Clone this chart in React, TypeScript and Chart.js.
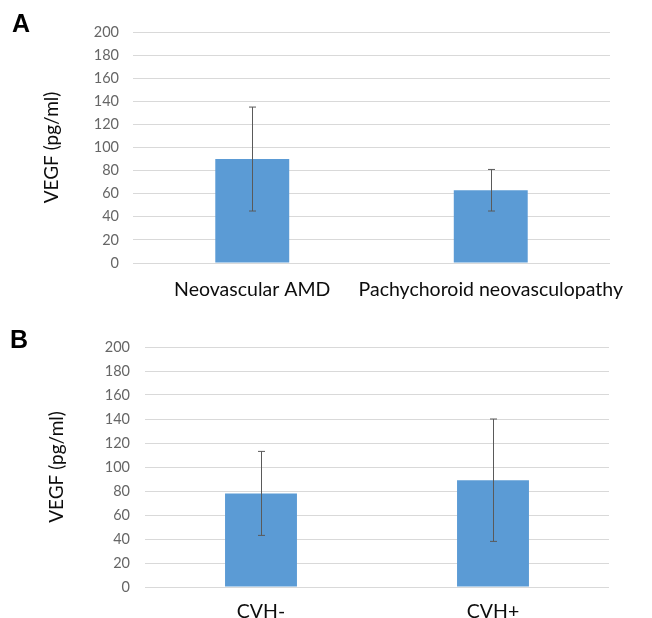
import React, { useEffect, useRef } from "react";
import { Chart, registerables } from "chart.js";

Chart.register(...registerables);

const categoriesA = ["Neovascular AMD", "Pachychoroid neovasculopathy"];
const meansA = [90, 63];
const errorsA = [45, 18];

const categoriesB = ["CVH-", "CVH+"];
const meansB = [78, 89];
const errorsB = [35, 51];

const yMin = 0;
const yMax = 200;
const yStep = 20;
const yTitle = "VEGF (pg/ml)";

const errorBarPlugin = {
  id: "errorBars",
  afterDatasetsDraw(chart: any, _args: any, opts: any) {
    const errs: number[] = opts.errors || [];
    const ctx = chart.ctx;
    const yScale = chart.scales.y;
    chart.data.datasets.forEach((ds: any, di: number) => {
      const meta = chart.getDatasetMeta(di);
      meta.data.forEach((el: any, i: number) => {
        const v = ds.data[i];
        const e = errs[i];
        if (e == null) return;
        const x = Math.round(el.x) + 0.5;
        const yt = yScale.getPixelForValue(v + e);
        const yb = yScale.getPixelForValue(v - e);
        ctx.save();
        ctx.strokeStyle = opts.color || "#595959";
        ctx.lineWidth = 1;
        ctx.beginPath();
        ctx.moveTo(x, yt);
        ctx.lineTo(x, yb);
        ctx.moveTo(x - 3.5, yt);
        ctx.lineTo(x + 3.5, yt);
        ctx.moveTo(x - 3.5, yb);
        ctx.lineTo(x + 3.5, yb);
        ctx.stroke();
        ctx.restore();
      });
    });
  },
};

type PanelProps = {
  labels: string[];
  means: number[];
  errors: number[];
  width: number;
  height: number;
  yAxisWidth: number;
  xAxisHeight: number;
  padTop: number;
  padRight: number;
  titlePad: number;
  tickPad: number;
  xTickPad: number;
};

function Panel(p: PanelProps) {
  const ref = useRef<HTMLCanvasElement | null>(null);
  useEffect(() => {
    if (!ref.current) return;
    const chart = new Chart(ref.current, {
      type: "bar",
      data: {
        labels: p.labels,
        datasets: [
          {
            data: p.means,
            backgroundColor: "#5b9bd5",
            borderWidth: 0,
            barPercentage: 0.31,
            categoryPercentage: 1,
          },
        ],
      },
      plugins: [errorBarPlugin],
      options: {
        responsive: false,
        animation: false,
        layout: {
          padding: { top: p.padTop, right: p.padRight, left: 0, bottom: 0 },
        },
        plugins: {
          legend: { display: false },
          tooltip: { enabled: false },
          errorBars: { errors: p.errors, color: "#5a5a5a" },
        } as any,
        scales: {
          x: {
            grid: { display: false, drawTicks: false },
            border: { display: false },
            ticks: {
              color: "#0d0d0d",
              padding: p.xTickPad,
              maxRotation: 0,
              autoSkip: false,
              font: { family: "Lato", size: 19.5 },
            },
            afterFit(scale: any) {
              scale.height = p.xAxisHeight;
            },
          },
          y: {
            min: yMin,
            max: yMax,
            grid: { color: "#d9d9d9", lineWidth: 1, drawTicks: false },
            border: { display: false },
            ticks: {
              stepSize: yStep,
              color: "#666666",
              padding: p.tickPad,
              font: { family: "Lato", size: 14.5 },
            },
            title: {
              display: true,
              text: yTitle,
              color: "#0d0d0d",
              padding: { top: p.titlePad, bottom: 0 },
              font: { family: "Lato", size: 19 },
            },
            afterFit(scale: any) {
              scale.width = p.yAxisWidth;
            },
          },
        },
      },
    });
    return () => chart.destroy();
  }, []);
  return <canvas ref={ref} width={p.width} height={p.height} style={{ width: p.width, height: p.height, display: "block" }} />;
}

const panelLabelStyle: React.CSSProperties = {
  position: "absolute",
  fontFamily: "'Liberation Sans', Arial, sans-serif",
  fontWeight: 700,
  fontSize: 25,
  lineHeight: "25px",
  color: "#000",
};

export default function App() {
  return (
    <div style={{ position: "absolute", left: 0, top: 0, width: 652, height: 618, background: "#fff", overflow: "hidden" }}>
      <div style={{ position: "absolute", left: 0, top: 0 }}>
        <Panel
          labels={categoriesA}
          means={meansA}
          errors={errorsA}
          width={652}
          height={300}
          yAxisWidth={133}
          xAxisHeight={37}
          padTop={32}
          padRight={42}
          titlePad={40}
          tickPad={14}
          xTickPad={15}
        />
      </div>
      <div style={{ position: "absolute", left: 0, top: 300 }}>
        <Panel
          labels={categoriesB}
          means={meansB}
          errors={errorsB}
          width={652}
          height={318}
          yAxisWidth={145}
          xAxisHeight={31}
          padTop={47}
          padRight={43}
          titlePad={45}
          tickPad={15}
          xTickPad={13}
        />
      </div>
      <div style={{ ...panelLabelStyle, left: 12, top: 11 }}>A</div>
      <div style={{ ...panelLabelStyle, left: 10, top: 327 }}>B</div>
    </div>
  );
}
